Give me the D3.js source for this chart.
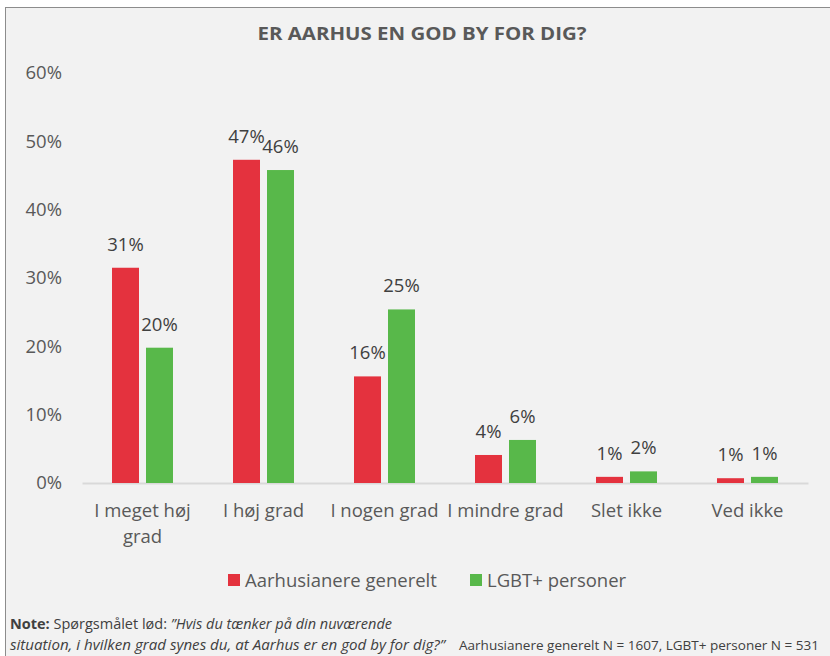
<!DOCTYPE html>
<html><head><meta charset="utf-8">
<script src="https://cdn.jsdelivr.net/npm/d3@7"></script>
<style>body{margin:0;background:#fff;}svg{display:block;}</style>
</head><body>
<svg id="c" width="830" height="656"></svg>
<script>
const categories = [["I meget høj","grad"],["I høj grad"],["I nogen grad"],["I mindre grad"],["Slet ikke"],["Ved ikke"]];
const seriesNames = ["Aarhusianere generelt","LGBT+ personer"];
const aarhus = [31.5, 47.3, 15.6, 4.1, 0.9, 0.7];
const lgbt = [19.8, 45.8, 25.4, 6.3, 1.7, 0.9];
const valueLabels = [["31%","47%","16%","4%","1%","1%"],["20%","46%","25%","6%","2%","1%"]];
const yTicks = [0,10,20,30,40,50,60];
const colors = ["#e4323e","#58b84a"];
const font = "'Open Sans', 'Noto Sans', sans-serif";

const svg = d3.select("#c");
svg.append("rect").attr("x",5.5).attr("y",7.5).attr("width",840).attr("height",660)
  .attr("fill","#f2f2f2").attr("stroke","#8c8c8c").attr("stroke-width",1);

svg.append("text").attr("x",422).attr("y",40).attr("text-anchor","middle")
  .attr("font-family",font).attr("font-weight","bold").attr("font-size",18)
  .attr("fill","#595959").attr("textLength",329).attr("lengthAdjust","spacingAndGlyphs")
  .text("ER AARHUS EN GOD BY FOR DIG?");

const x = d3.scaleBand().domain(d3.range(categories.length)).range([82,808]);
const y = d3.scaleLinear().domain([0,60]).range([483,73]);

// y axis labels
const yAxis = d3.axisLeft(y).tickValues(yTicks).tickFormat(d=>d+"%").tickSize(0).tickPadding(0);
const ya = svg.append("g").attr("transform","translate(62,0)").call(yAxis);
ya.select(".domain").remove();
ya.selectAll("text").attr("font-family",font).attr("font-size",18.5).attr("fill","#595959");

// x axis
const xAxis = d3.axisBottom(x).tickSize(0).tickFormat("");
const xa = svg.append("g").attr("transform","translate(0,483)").call(xAxis);
xa.select(".domain").attr("stroke","#d9d9d9").attr("stroke-width",2);

categories.forEach((lines,i)=>{
  const t = svg.append("text").attr("text-anchor","middle").attr("font-family",font)
    .attr("font-size",18.5).attr("fill","#595959");
  lines.forEach((l,j)=>{
    t.append("tspan").attr("x",x(i)+x.bandwidth()/2).attr("y",517+j*26).text(l);
  });
});

const barW = 27, gap = 7;
[aarhus,lgbt].forEach((vals,s)=>{
  const g = svg.append("g");
  vals.forEach((v,i)=>{
    const cx = x(i)+x.bandwidth()/2;
    const bx = s===0 ? cx - gap/2 - barW : cx + gap/2;
    g.append("rect").attr("x",bx).attr("y",y(v)).attr("width",barW).attr("height",y(0)-y(v))
      .attr("fill",colors[s]);
    g.append("text").attr("x",bx+barW/2).attr("y",y(v)-17).attr("text-anchor","middle")
      .attr("font-family",font).attr("font-size",18.5).attr("fill","#404040")
      .text(valueLabels[s][i]);
  });
});

// legend
const legX = [228,470];
seriesNames.forEach((n,s)=>{
  svg.append("rect").attr("x",legX[s]).attr("y",574).attr("width",12).attr("height",12).attr("fill",colors[s]);
  svg.append("text").attr("x",legX[s]+17).attr("y",587).attr("font-family",font)
    .attr("font-size",18.5).attr("fill","#595959").text(n);
});

// notes
const n1 = svg.append("text").attr("x",10).attr("y",629).attr("font-family",font).attr("font-size",14)
  .attr("fill","#404040").attr("textLength",382).attr("lengthAdjust","spacingAndGlyphs");
n1.append("tspan").attr("font-weight","bold").text("Note:");
n1.append("tspan").text(" Spørgsmålet lød: ");
n1.append("tspan").attr("font-style","italic").text("\u201DHvis du tænker på din nuværende");
svg.append("text").attr("x",10).attr("y",650).attr("font-family",font).attr("font-size",14)
  .attr("font-style","italic").attr("fill","#404040")
  .attr("textLength",435).attr("lengthAdjust","spacingAndGlyphs")
  .text("situation, i hvilken grad synes du, at Aarhus er en god by for dig?\u201D");
svg.append("text").attr("x",459).attr("y",650).attr("font-family",font).attr("font-size",13.5)
  .attr("fill","#404040").attr("textLength",360).attr("lengthAdjust","spacingAndGlyphs")
  .text("Aarhusianere generelt N = 1607, LGBT+ personer N = 531");
</script>
</body></html>
